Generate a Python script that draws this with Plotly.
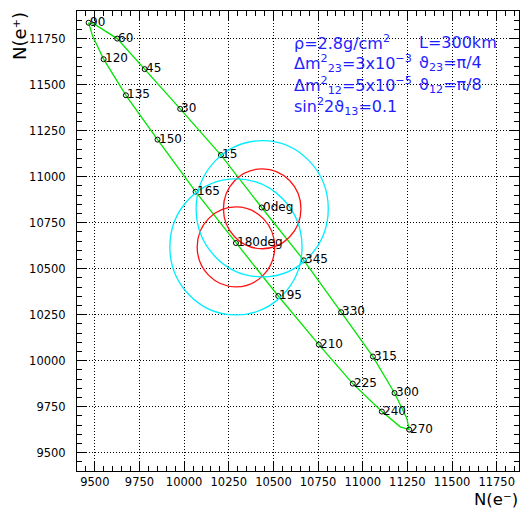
import plotly.graph_objects as go

# CP phase (deg) sampled along the closed curve
angles = [0, 15, 30, 45, 60, 75, 90, 105, 120, 135, 150, 165,
          180, 195, 210, 225, 240, 255, 270, 285, 300, 315, 330, 345]
n_eminus = [10434, 10206, 9978, 9779, 9625, 9500, 9465, 9487, 9549, 9674, 9851, 10064,
            10290, 10527, 10754, 10944, 11107, 11210, 11260, 11247, 11178, 11057, 10879, 10670]
n_eplus = [10832, 11117, 11368, 11584, 11750, 11827, 11836, 11765, 11638, 11442, 11201, 10918,
           10639, 10351, 10087, 9875, 9723, 9640, 9625, 9686, 9824, 10022, 10263, 10545]

labeled_angles = [0, 15, 30, 45, 60, 90, 120, 135, 150, 165, 180, 195,
                  210, 225, 240, 270, 300, 315, 330, 345]
special_labels = {0: "0deg", 180: "180deg"}

# contours around the 0 deg and 180 deg points
circle_cx = [10437, 10290, 10437, 10290]
circle_cy = [10825, 10618, 10825, 10618]
circle_r = [217, 217, 370, 370]
circle_color = ["#ff1010", "#ff1010", "#00eeff", "#00eeff"]

x_ticks = [9500, 9750, 10000, 10250, 10500, 10750, 11000, 11250, 11500, 11750]
y_ticks = [9500, 9750, 10000, 10250, 10500, 10750, 11000, 11250, 11500, 11750]

fig = go.Figure()

# closed curve
fig.add_trace(go.Scatter(
    x=n_eminus + [n_eminus[0]], y=n_eplus + [n_eplus[0]],
    mode="lines", line=dict(color="#00e600", width=1.3),
    hoverinfo="skip", showlegend=False))

mx, my, mt = [], [], []
for a, xv, yv in zip(angles, n_eminus, n_eplus):
    if a in labeled_angles:
        mx.append(xv); my.append(yv)
        mt.append(special_labels.get(a, str(a)))

fig.add_trace(go.Scatter(
    x=mx, y=my, mode="markers",
    marker=dict(symbol="circle-open", size=5, color="black", line=dict(width=1)),
    showlegend=False))

shapes = []
for cx, cy, r, c in zip(circle_cx, circle_cy, circle_r, circle_color):
    shapes.append(dict(type="circle", xref="x", yref="y",
                       x0=cx - r, x1=cx + r, y0=cy - r, y1=cy + r,
                       line=dict(color=c, width=1.3), layer="above"))

annotations = []
for xv, yv, t in zip(mx, my, mt):
    annotations.append(dict(x=xv, y=yv, xref="x", yref="y", text=t,
                            xanchor="left", yanchor="middle", showarrow=False,
                            xshift=-1, yshift=1,
                            font=dict(family="DejaVu Sans", size=12, color="black")))

blue = "rgb(30,30,255)"
bfont = dict(family="DejaVu Sans", size=16, color=blue)
block = [
    ("ρ=2.8g/cm<sup>2</sup>", 0.4857, 0.931),
    ("L=300km", 0.7686, 0.931),
    ("Δm<sup>2</sup><sub>23</sub>=3x10<sup>−3</sup>", 0.4857, 0.8863),
    ("ϑ<sub>23</sub>=π/4", 0.7686, 0.8863),
    ("Δm<sup>2</sup><sub>12</sub>=5x10<sup>−5</sup>", 0.4857, 0.8391),
    ("ϑ<sub>12</sub>=π/8", 0.7686, 0.8391),
    ("sin<sup>2</sup>2ϑ<sub>13</sub>=0.1", 0.4857, 0.7928),
]
for t, xp, yp in block:
    annotations.append(dict(x=xp, y=yp, xref="paper", yref="paper", text=t,
                            xanchor="left", yanchor="middle", showarrow=False,
                            font=bfont))

# axis titles
annotations.append(dict(x=1.0, y=(471 - 510) / 460, xref="paper", yref="paper",
                        text="N(e⁻)", borderpad=0,
                        xanchor="right", yanchor="bottom", showarrow=False,
                        font=dict(family="DejaVu Sans", size=16.5, color="black")))
annotations.append(dict(x=(19 - 77) / 442, y=1.0, xref="paper", yref="paper",
                        text="N(e⁺)", textangle=-90, borderpad=0,
                        xanchor="center", yanchor="top", showarrow=False,
                        font=dict(family="DejaVu Sans", size=18, color="black")))

axis_common = dict(
    showline=True, linecolor="black", linewidth=1, mirror="allticks",
    ticks="inside", ticklen=9, tickwidth=1, tickcolor="black",
    showgrid=True, gridcolor="black", gridwidth=1, griddash="1px,2px",
    zeroline=False,
    tickfont=dict(family="DejaVu Sans", size=11.5, color="black"),
    minor=dict(ticks="inside", ticklen=5, tickcolor="black", dtick=50, showgrid=False),
)

fig.update_layout(
    width=521, height=510,
    margin=dict(l=77, r=2, t=11, b=39),
    plot_bgcolor="white", paper_bgcolor="white",
    xaxis=dict(range=[9400, 11875], tickvals=x_ticks, ticktext=[str(v) for v in x_ticks],
               ticklabelstandoff=0, **axis_common),
    yaxis=dict(range=[9400, 11900], tickvals=y_ticks, ticktext=[str(v) for v in y_ticks],
               ticklabelstandoff=8, **axis_common),
    shapes=shapes, annotations=annotations, showlegend=False,
)

fig.write_html("out.html")
